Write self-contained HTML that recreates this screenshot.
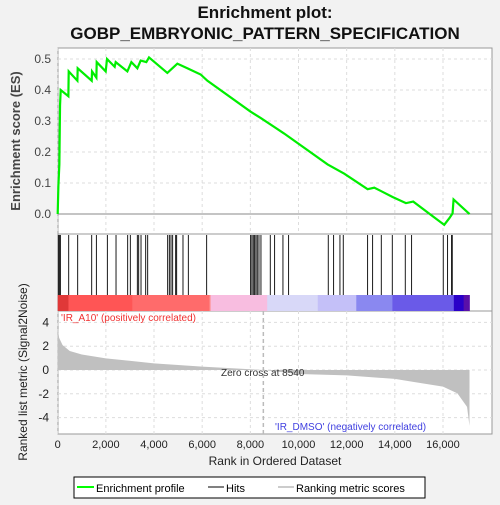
<!DOCTYPE html>
<html><head><meta charset="utf-8"><style>
body{margin:0;background:#f2f2f2;font-family:"Liberation Sans",sans-serif}
svg text{font-family:"Liberation Sans",sans-serif}
</style></head><body>
<svg id="c" width="500" height="500" xmlns="http://www.w3.org/2000/svg">
<rect width="500" height="500" fill="#f2f2f2"/>
<text x="265" y="18" text-anchor="middle" font-size="17" font-weight="bold" fill="#111">Enrichment plot:</text>
<text x="265" y="39" text-anchor="middle" font-size="17" font-weight="bold" fill="#111">GOBP_EMBRYONIC_PATTERN_SPECIFICATION</text>
<rect x="58" y="48" width="434" height="186" fill="#fff" stroke="#999"/>
<rect x="58" y="234" width="434" height="77" fill="#fff" stroke="#999"/>
<rect x="58" y="311" width="434" height="123" fill="#fff" stroke="#999"/>
<g id="g"></g>
<text transform="translate(20,141) rotate(-90)" text-anchor="middle" font-size="13" font-weight="bold" fill="#444">Enrichment score (ES)</text>
<text transform="translate(27,372) rotate(-90)" text-anchor="middle" font-size="12" fill="#222">Ranked list metric (Signal2Noise)</text>
<text x="275" y="465" text-anchor="middle" font-size="12" fill="#222">Rank in Ordered Dataset</text>
<text x="61" y="321" font-size="10" fill="#f03030">'IR_A10' (positively correlated)</text>
<text x="275" y="430" font-size="10" fill="#4040e0">'IR_DMSO' (negatively correlated)</text>
<text x="221" y="376" font-size="10" fill="#333">Zero cross at 8540</text>
<g>
<rect x="74" y="477" width="351" height="21" fill="#fff" stroke="#000"/>
<line x1="77" y1="487" x2="94" y2="487" stroke="#0f0" stroke-width="2"/>
<text x="96" y="492" font-size="11">Enrichment profile</text>
<line x1="208" y1="487" x2="224" y2="487" stroke="#000"/>
<text x="226" y="492" font-size="11">Hits</text>
<line x1="278" y1="487" x2="294" y2="487" stroke="#ccc" stroke-width="2"/>
<text x="296" y="492" font-size="11">Ranking metric scores</text>
</g>
</svg>
<script>
const esRanks=[0,28,69,97,125,443,457,817,830,1412,1426,1606,1620,1993,2048,2366,2408,2893,3059,3308,3446,3681,3792,4553,4968,5383,5937,6213,8012,8427,9396,11209,11901,12870,13147,13908,14461,14765,15498,16052,16260,16398,16440,17103];
const esValues=[0,0.09,0.16,0.35,0.40,0.38,0.46,0.43,0.47,0.43,0.46,0.44,0.49,0.46,0.50,0.475,0.49,0.46,0.49,0.47,0.495,0.49,0.505,0.455,0.485,0.47,0.45,0.43,0.33,0.31,0.26,0.16,0.13,0.08,0.085,0.055,0.035,0.04,-0.003,-0.035,-0.014,0.002,0.047,0];
const hitRanks=[28,69,111,457,830,1412,1606,2062,2422,2906,3016,3307,3363,3460,3654,3737,4567,4636,4705,4774,4899,4940,5203,5425,6186,8012,8067,8122,8178,8233,8288,8358,8441,8828,9008,9354,9589,11236,11458,11721,11859,12870,13078,13438,13895,14434,14697,16011,16191,16357,16385];
const metricRanks=[0,60,200,500,1000,2000,4000,6000,8540,10000,12000,14000,16000,16600,17000,17100];
const metricValues=[3.5,2.7,2.1,1.6,1.3,0.98,0.56,0.28,0,-0.34,-0.45,-0.75,-1.4,-1.96,-3.1,-4.7];
const esTicks=[0,0.1,0.2,0.3,0.4,0.5];
const mTicks=[-4,-2,0,2,4];
const xTicks=[0,2000,4000,6000,8000,10000,12000,14000,16000];
const bandStops=[[0,'#e03838'],[450,'#ff5555'],[3100,'#ff6b6b'],[6300,'#ff8e8e'],[6350,'#f8bde0'],[8700,'#d8d8f8'],[10800,'#c4c0f8'],[12400,'#8a88f0'],[13900,'#6a5ae8'],[16450,'#2a00c8'],[16860,'#5a10a8'],[17103,null]];
const NS='http://www.w3.org/2000/svg',g=document.getElementById('g');
const X=r=>57.7+r*0.02408, YE=v=>214-v*310, YM=v=>370-v*11.9;
function mk(t,a){const e=document.createElementNS(NS,t);for(const k in a)e.setAttribute(k,a[k]);g.appendChild(e);return e;}
xTicks.forEach(t=>{[[48,234],[311,434]].forEach(p=>{const l=mk('line',{x1:X(t),x2:X(t),y1:p[0],y2:p[1],stroke:'#ddd','stroke-dasharray':'3,3'});});
const tx=mk('text',{x:X(t),y:448,'text-anchor':'middle','font-size':'11',fill:'#222'});tx.textContent=t.toLocaleString('en-US');});
esTicks.forEach(t=>{const l=mk('line',{x1:58,x2:492,y1:YE(t),y2:YE(t),stroke:t===0?'#888':'#ddd','stroke-dasharray':t===0?'':'3,3'});
const tx=mk('text',{x:51,y:YE(t)+4,'text-anchor':'end','font-size':'12',fill:'#444'});tx.textContent=t.toFixed(1);});
mTicks.forEach(t=>{const l=mk('line',{x1:58,x2:492,y1:YM(t),y2:YM(t),stroke:'#ddd','stroke-dasharray':'3,3'});
const tx=mk('text',{x:49,y:YM(t)+4,'text-anchor':'end','font-size':'12',fill:'#222'});tx.textContent=t;});
let d='M'+X(0)+','+YM(0);metricRanks.forEach((r,i)=>d+='L'+X(r)+','+YM(metricValues[i]));d+='L'+X(17103)+','+YM(0)+'Z';
const ar=mk('path',{d:d,fill:'#c0c0c0'});
const zl=mk('line',{x1:X(8540),x2:X(8540),y1:311,y2:434,stroke:'#bbb','stroke-dasharray':'4,3','stroke-width':'1.5'});
for(let i=0;i<bandStops.length-1;i++){const b=mk('rect',{x:X(bandStops[i][0]),y:295,width:X(bandStops[i+1][0])-X(bandStops[i][0])+0.3,height:16,fill:bandStops[i][1]});}
hitRanks.forEach(r=>{const l=mk('line',{x1:X(r),x2:X(r),y1:235,y2:295,stroke:'#000','stroke-width':'0.9'});});
const pts=esRanks.map((r,i)=>X(r)+','+YE(esValues[i])).join(' ');
const pl=mk('polyline',{points:pts,fill:'none',stroke:'#00ee00','stroke-width':'2.2'});
</script>
</body></html>
